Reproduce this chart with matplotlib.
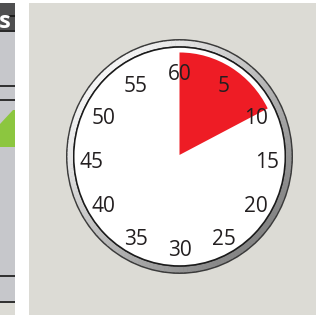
import numpy as np
import matplotlib
matplotlib.use("Agg")
import matplotlib.pyplot as plt
from matplotlib.patches import Wedge, Circle, Rectangle, Polygon
from matplotlib.transforms import Affine2D

# ---- data ----
timer_minutes = 10.5                      # red sector: elapsed minutes
tick_minutes = [60, 5, 10, 15, 20, 25, 30, 35, 40, 45, 50, 55]
tick_labels = [str(m) for m in tick_minutes]
header_text = "s"

W, H = 316, 315
fig = plt.figure(figsize=(W / 100, H / 100), dpi=100)
ax = fig.add_axes([0, 0, 1, 1])
ax.set_xlim(0, W)
ax.set_ylim(H, 0)
ax.axis("off")
fig.patch.set_facecolor("white")

# ---- left partial panel ----
ax.add_patch(Rectangle((0, 3), 15, 300, color="#c6c7cb", lw=0))
ax.add_patch(Rectangle((0, 3), 15, 28, color="#4f4f50", lw=0))
ax.add_patch(Rectangle((0, 30), 15, 2, color="#2a2a2a", lw=0))
ax.add_patch(Rectangle((6, 15), 9, 2, color="#1e1e1e", lw=0))
for yl in [86, 100, 276, 302]:
    ax.add_patch(Rectangle((0, yl - 1), 15, 2, color="#333333", lw=0))
ax.add_patch(Rectangle((0, 303), 15, 12, color="#dcdbd5", lw=0))
ax.add_patch(Polygon([(0, 124), (13, 110), (15, 110), (15, 147), (0, 147)],
                     closed=True, color="#8cc63f", lw=0))
ax.text(-1, 27.5, header_text, color="white", fontsize=17, fontweight="bold",
        ha="left", va="baseline", family="Open Sans")

# ---- main panel ----
ax.add_patch(Rectangle((29, 3), W - 29, H - 3, color="#dcdbd5", lw=0))

# ---- clock ----
cx, cy = 179.5, 156.5
sy = 1.035
tr = Affine2D().scale(1, -sy).translate(cx, cy) + ax.transData

R_out, R_ring_out, R_ring_in, R_face, R_wedge = 113.5, 112, 106.5, 105, 99

ax.add_patch(Circle((0, 0), R_out, color="#3a3a3a", lw=0, transform=tr))
# gradient ring: light upper-left, dark lower-right
n = 180
for i in range(n):
    a0 = 360 * i / n
    a1 = 360 * (i + 1) / n + 0.3
    am = np.deg2rad((a0 + a1) / 2)
    t = (np.cos(am - np.deg2rad(135)) + 1) / 2  # 1 at upper-left
    g = 0.52 + 0.44 * t
    ax.add_patch(Wedge((0, 0), R_ring_out, a0, a1, width=R_ring_out - R_ring_in,
                       color=(g, g, g), lw=0, transform=tr))
ax.add_patch(Circle((0, 0), R_ring_in, color="#1a1a1a", lw=0, transform=tr))
ax.add_patch(Circle((0, 0), R_face, color="white", lw=0, transform=tr))

theta2 = 90
theta1 = 90 - 6 * timer_minutes
ax.add_patch(Wedge((0, 1.5), R_wedge, theta1, theta2, color="#ee1c25", lw=0,
                   transform=tr))

lx, ly, R_lab = 179.5, 163, 88
for m, lab in zip(tick_minutes, tick_labels):
    ang = np.deg2rad(90 - 6 * (m % 60))
    x = lx + R_lab * np.cos(ang)
    y = ly - R_lab * np.sin(ang)
    ax.text(x, y, lab, fontsize=15, color="#231f20", ha="center",
            va="center", family="Open Sans")

fig.savefig("out.png", dpi=100)
